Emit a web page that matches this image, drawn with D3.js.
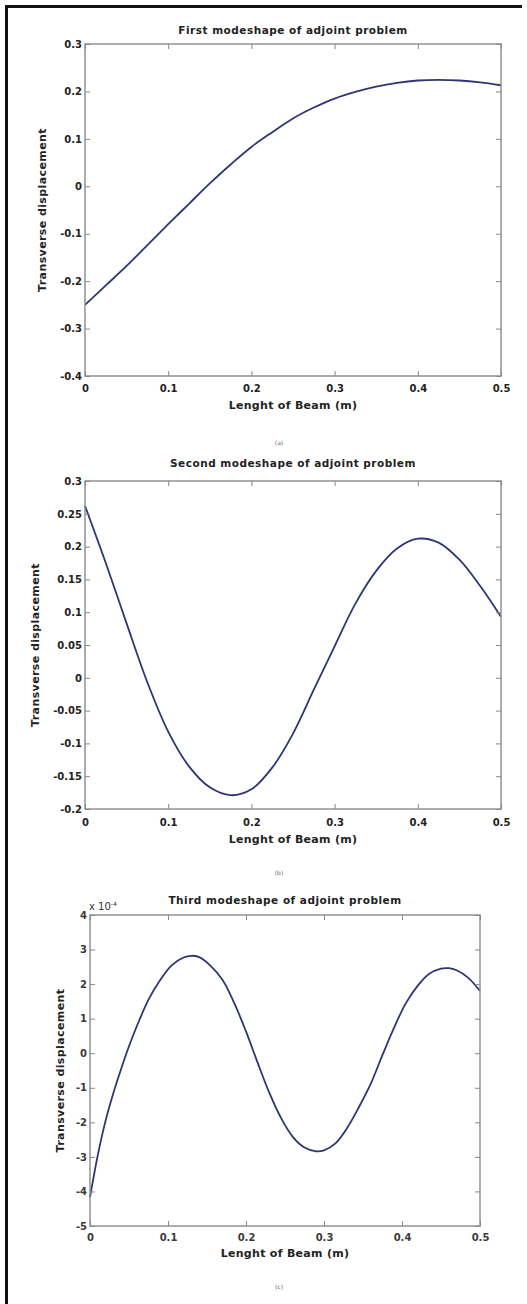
<!DOCTYPE html>
<html>
<head>
<meta charset="utf-8">
<script src="https://cdn.jsdelivr.net/npm/d3@7"></script>
<style>
  body { margin: 0; background: #fff; }
  svg { display: block; }
</style>
</head>
<body>
<script>

// mode 1
const beamX1 = [0, 0.025, 0.05, 0.075, 0.1, 0.125, 0.15, 0.175, 0.2, 0.225, 0.25,
  0.275, 0.3, 0.325, 0.35, 0.375, 0.4, 0.425, 0.45, 0.475, 0.5];
const mode1 = [-0.250, -0.209, -0.168, -0.124, -0.080, -0.037, 0.006, 0.046, 0.083, 0.114, 0.143,
  0.166, 0.185, 0.199, 0.210, 0.218, 0.223, 0.2245, 0.223, 0.219, 0.213];
const yTicks1 = [-0.4, -0.3, -0.2, -0.1, 0, 0.1, 0.2, 0.3];

// mode 2
const beamX2 = beamX1;
const mode2 = [0.262, 0.175, 0.083, -0.007, -0.082, -0.135, -0.167, -0.179, -0.170, -0.137, -0.085,
  -0.018, 0.048, 0.113, 0.163, 0.197, 0.212, 0.206, 0.180, 0.140, 0.093];
const yTicks2 = [-0.2, -0.15, -0.1, -0.05, 0, 0.05, 0.1, 0.15, 0.2, 0.25, 0.3];

// mode 3 (values x 10^-4)
const beamX3 = [0, 0.01, 0.02, 0.03, 0.04, 0.05, 0.06, 0.075, 0.09, 0.105, 0.12, 0.13, 0.14,
  0.155, 0.17, 0.185, 0.2, 0.215, 0.23, 0.245, 0.26, 0.275, 0.29, 0.3, 0.315, 0.33, 0.345,
  0.36, 0.375, 0.39, 0.405, 0.42, 0.435, 0.45, 0.46, 0.47, 0.485, 0.5];
const mode3 = [-4.17, -2.95, -1.95, -1.15, -0.45, 0.2, 0.78, 1.55, 2.12, 2.55, 2.77, 2.82, 2.78,
  2.52, 2.12, 1.45, 0.63, -0.28, -1.15, -1.88, -2.42, -2.73, -2.84, -2.81, -2.6, -2.15, -1.55,
  -0.88, -0.05, 0.75, 1.45, 1.95, 2.3, 2.45, 2.46, 2.4, 2.18, 1.8];
const yTicks3 = [-5, -4, -3, -2, -1, 0, 1, 2, 3, 4];

const xTicks = [0, 0.1, 0.2, 0.3, 0.4, 0.5];
const titles = ["First modeshape of adjoint problem",
  "Second modeshape of adjoint problem",
  "Third modeshape of adjoint problem"];
const captions = ["(a)", "(b)", "(c)"];
const xTitle = "Lenght of Beam (m)";
const yTitle = "Transverse displacement";

const W = 527, H = 1304;
const svg = d3.select("body").append("svg")
    .attr("width", W)
    .attr("height", H);

svg.append("rect").attr("width", W).attr("height", H).attr("fill", "#fff");

// page frame (left + top)
svg.append("path")
    .attr("d", "M6.5,1304 L6.5,6.5 L522,6.5")
    .attr("fill", "none")
    .attr("stroke", "#111")
    .attr("stroke-width", 3);

const fontF = "'DejaVu Sans', Verdana, sans-serif";
const fmt = d => d === 0 ? "0" : String(+d.toFixed(2));

const panels = [
  {xs: beamX1, ys: mode1, yDomain: [-0.4, 0.3], yTicks: yTicks1,
   left: 85, right: 501, top: 44, bottom: 376,
   titleY: 33.5, xPad: 9, xLabelY: 409, capY: 445, yLabelX: 46},
  {xs: beamX2, ys: mode2, yDomain: [-0.2, 0.3], yTicks: yTicks2,
   left: 85, right: 501, top: 481, bottom: 809,
   titleY: 467, xPad: 10, xLabelY: 843, capY: 875, yLabelX: 39},
  {xs: beamX3, ys: mode3, yDomain: [-5, 4], yTicks: yTicks3,
   left: 90, right: 480, top: 915, bottom: 1226,
   titleY: 904, xPad: 8, xLabelY: 1257, capY: 1289, yLabelX: 64, exp: "-4"}
];

panels.forEach((p, i) => {
  const w = p.right - p.left, h = p.bottom - p.top;
  const x = d3.scaleLinear().domain([0, 0.5]).range([0, w]);
  const y = d3.scaleLinear().domain(p.yDomain).range([h, 0]);

  const g = svg.append("g").attr("transform", "translate(" + p.left + "," + p.top + ")");

  // curve
  const line = d3.line()
      .x(d => x(d[0]))
      .y(d => y(d[1]))
      .curve(d3.curveCatmullRom);

  g.append("path")
      .datum(d3.zip(p.xs, p.ys))
      .attr("d", line)
      .attr("fill", "none")
      .attr("stroke", "#2f3674")
      .attr("stroke-width", 1.8);

  // axes, inward ticks on all four sides
  const styleAxis = sel => {
    sel.select(".domain").remove();
    sel.selectAll(".tick line").attr("stroke", "#888").attr("stroke-width", 1);
    sel.selectAll("text")
        .attr("fill", i == 2 ? "#3a3a3a" : "#222")
        .attr("font-family", fontF)
        .attr("font-weight", "bold")
        .attr("font-size", 10);
  };

  g.append("g")
      .attr("transform", "translate(0," + h + ")")
      .call(d3.axisBottom(x).tickValues(xTicks).tickFormat(fmt)
        .tickSizeInner(-5).tickSizeOuter(0).tickPadding(p.xPad))
      .call(styleAxis);
  g.append("g")
      .call(d3.axisTop(x).tickValues(xTicks).tickFormat("")
        .tickSizeInner(-5).tickSizeOuter(0))
      .call(styleAxis);
  g.append("g")
      .call(d3.axisLeft(y).tickValues(p.yTicks).tickFormat(fmt)
        .tickSizeInner(-5).tickSizeOuter(0).tickPadding(3))
      .call(styleAxis);
  g.append("g")
      .attr("transform", "translate(" + w + ",0)")
      .call(d3.axisRight(y).tickValues(p.yTicks).tickFormat("")
        .tickSizeInner(-5).tickSizeOuter(0))
      .call(styleAxis);

  // box
  g.append("rect")
      .attr("width", w)
      .attr("height", h)
      .attr("fill", "none")
      .attr("stroke", "#8a8a8a")
      .attr("stroke-width", 1.4);

  // title
  svg.append("text")
      .attr("x", p.left + w / 2)
      .attr("y", p.titleY)
      .attr("text-anchor", "middle")
      .attr("font-family", fontF)
      .attr("font-weight", "bold")
      .attr("font-size", 10.5)
      .attr("letter-spacing", 0.5)
      .attr("fill", "#222")
      .text(titles[i]);

  // x title
  svg.append("text")
      .attr("x", p.left + w / 2)
      .attr("y", p.xLabelY)
      .attr("text-anchor", "middle")
      .attr("font-family", fontF)
      .attr("font-weight", "bold")
      .attr("font-size", 11)
      .attr("letter-spacing", 0.3)
      .attr("fill", "#222")
      .text(xTitle);

  // y title
  svg.append("text")
      .attr("transform", "translate(" + p.yLabelX + "," + (p.top + h / 2) + ") rotate(-90)")
      .attr("text-anchor", "middle")
      .attr("font-family", fontF)
      .attr("font-weight", "bold")
      .attr("font-size", 11)
      .attr("letter-spacing", 0.4)
      .attr("fill", "#222")
      .text(yTitle);

  // caption
  svg.append("text")
      .attr("x", 279)
      .attr("y", p.capY)
      .attr("text-anchor", "middle")
      .attr("font-family", fontF)
      .attr("font-size", 6)
      .attr("fill", "#666")
      .text(captions[i]);

  // exponent label
  if (p.exp) {
    const t = svg.append("text")
        .attr("x", p.left - 1)
        .attr("y", p.top - 5)
        .attr("font-family", fontF)
        .attr("font-size", 10)
        .attr("fill", "#333");
    t.append("tspan").text("x 10");
    t.append("tspan").attr("dy", -4).attr("font-size", 6).text(p.exp);
  }
});

</script>
</body>
</html>
